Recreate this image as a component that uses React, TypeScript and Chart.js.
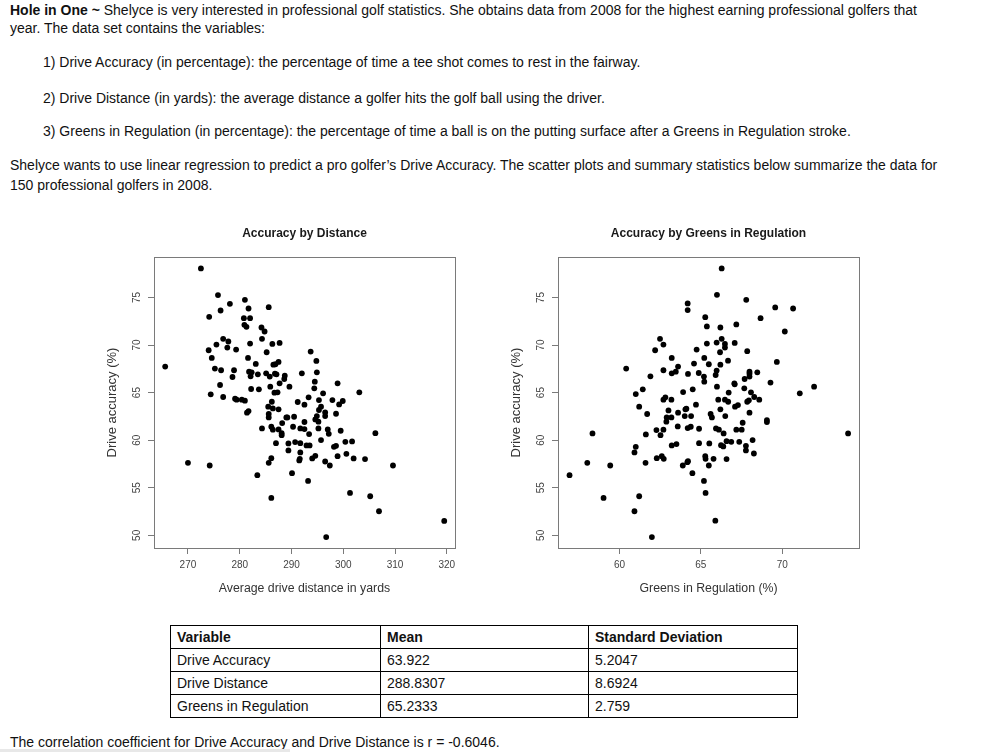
import React, { useEffect, useRef } from "react";
import { Chart, registerables } from "chart.js";

Chart.register(...registerables);

const FONT = "'Liberation Sans', Arial, Helvetica, sans-serif";

// Accuracy by Distance
const distanceYards = [
  272.5, 265.6, 270.0, 274.2, 275.8, 274.1, 276.3, 278.1, 274.0, 275.5,
  274.6, 276.8, 277.8, 277.6, 279.3, 275.2, 276.4, 278.9, 278.6, 276.2,
  274.4, 276.8, 279.1, 279.4, 280.4, 281.0, 281.0, 281.7, 280.8, 282.0,
  280.9, 281.3, 285.6, 284.2, 284.8, 284.3, 282.0, 286.3, 287.7, 285.2,
  281.6, 283.1, 281.8, 282.3, 282.1, 283.5, 285.1, 286.5, 286.9, 287.5,
  286.8, 285.8, 287.1, 288.7, 288.6, 287.7, 285.9, 282.2, 283.7, 286.7,
  287.3, 289.6, 286.2, 285.5, 286.4, 287.5, 285.6, 285.6, 281.7, 281.4,
  284.3, 286.1, 286.4, 287.5, 288.2, 288.1, 288.1, 287.0, 289.0, 289.2,
  290.5, 289.4, 289.4, 286.1, 285.6, 283.4, 286.1, 290.1, 290.3, 290.7,
  291.2, 292.0, 292.5, 291.7, 292.5, 292.5, 291.7, 291.7, 291.5, 291.6,
  292.9, 293.5, 293.4, 293.3, 293.7, 294.8, 294.9, 294.5, 294.4, 295.3,
  296.1, 295.7, 295.3, 294.6, 294.9, 295.2, 295.2, 295.7, 296.5, 296.5,
  294.0, 294.6, 293.2, 296.5, 297.4, 296.7, 297.0, 297.2, 297.9, 298.9,
  299.2, 299.9, 298.6, 299.5, 298.6, 298.2, 298.9, 300.4, 300.6, 301.7,
  302.0, 301.3, 303.1, 304.2, 305.2, 306.2, 306.9, 309.6, 319.5,
];
const distanceAccuracy = [
  78.05, 67.73, 57.62, 57.34, 75.25, 72.96, 73.63, 74.33, 69.45, 70.05,
  68.64, 70.65, 70.37, 69.73, 69.52, 67.52, 67.35, 67.35, 66.64, 65.8,
  64.82, 64.54, 64.36, 64.26, 64.26, 64.15, 74.75, 73.84, 72.82, 72.82,
  72.12, 71.91, 73.98, 71.84, 71.42, 70.65, 70.15, 70.12, 70.22, 69.24,
  68.64, 68.01, 67.2, 67.13, 66.71, 66.92, 67.03, 67.94, 67.98, 68.22,
  66.99, 66.68, 66.92, 66.78, 66.43, 65.98, 65.62, 65.38, 65.34, 64.99,
  65.03, 65.62, 64.04, 63.52, 63.34, 63.24, 62.75, 62.39, 63.06, 62.89,
  61.24, 61.41, 61.1, 61.13, 61.8, 60.74, 60.53, 59.69, 62.39, 62.39,
  62.46, 59.66, 58.92, 58.11, 57.62, 56.32, 53.93, 56.53, 61.41, 59.8,
  64.01, 67.03, 63.73, 61.24, 61.17, 61.91, 59.69, 58.71, 57.87, 58.04,
  59.45, 59.45, 60.64, 64.5, 69.31, 68.33, 67.13, 66.15, 65.45, 64.22,
  64.92, 63.52, 63.17, 62.18, 62.53, 61.94, 61.24, 60.01, 62.92, 62.53,
  58.08, 58.36, 55.72, 57.76, 57.34, 49.82, 61.13, 60.67, 64.22, 65.98,
  63.76, 64.12, 62.78, 60.99, 59.41, 59.3, 58.32, 59.83, 58.57, 59.87,
  58.08, 54.46, 65.03, 58.01, 54.11, 60.74, 52.53, 57.34, 51.51,
];

// Accuracy by Greens in Regulation
const girPercent = [
  66.28, 56.93, 58.02, 58.34, 59.43, 59.02, 60.41, 61.0, 61.43, 61.21,
  61.7, 61.9, 62.19, 62.49, 62.7, 62.7, 63.21, 63.46, 63.21, 63.6,
  62.7, 62.82, 63.19, 63.01, 62.9, 62.88, 63.19, 63.6, 63.91, 64.05,
  64.11, 64.01, 64.4, 63.58, 64.19, 64.38, 62.27, 62.52, 62.7, 61.62,
  61.0, 60.92, 61.6, 62.29, 62.6, 62.72, 63.21, 63.5, 64.21, 64.17,
  63.89, 64.48, 61.21, 60.92, 61.99, 64.19, 64.19, 64.58, 64.74, 64.21,
  64.5, 64.7, 64.87, 65.19, 65.21, 65.27, 65.37, 65.37, 65.49, 65.21,
  64.89, 64.89, 65.19, 65.29, 65.27, 65.29, 65.49, 65.52, 65.6, 65.68,
  65.78, 65.89, 65.99, 65.97, 66.2, 66.28, 66.18, 66.48, 66.48, 65.97,
  65.91, 66.2, 66.67, 65.99, 66.07, 66.48, 66.68, 66.71, 66.2, 66.5,
  65.93, 66.11, 66.4, 66.58, 66.87, 66.24, 66.38, 66.58, 67.08, 67.18,
  67.79, 67.85, 67.06, 67.08, 67.69, 67.67, 67.99, 67.99, 67.99, 68.08,
  68.28, 67.95, 67.85, 68.59, 68.47, 67.1, 67.28, 67.99, 67.57, 67.18,
  67.51, 67.36, 67.77, 67.77, 68.18, 68.26, 68.67, 69.57, 69.67, 69.28,
  69.06, 69.06, 70.16, 70.67, 71.08, 71.96, 74.05,
];
const girAccuracy = [
  78.05, 56.32, 57.62, 60.71, 57.34, 53.93, 67.52, 64.85, 65.34, 63.52,
  62.75, 66.71, 69.45, 70.65, 70.05, 67.35, 68.64, 67.2, 67.03, 67.73,
  64.26, 64.5, 64.26, 63.13, 62.39, 61.94, 62.39, 62.89, 65.06, 63.24,
  63.31, 62.53, 62.53, 61.45, 61.27, 61.41, 61.06, 60.53, 61.1, 60.6,
  59.3, 58.71, 57.62, 58.11, 58.32, 58.04, 59.45, 59.59, 57.79, 57.69,
  57.34, 56.53, 54.11, 52.53, 49.82, 73.67, 74.37, 68.05, 69.52, 66.96,
  65.34, 63.73, 67.06, 66.68, 68.64, 72.93, 71.95, 70.15, 67.98, 66.15,
  61.2, 59.69, 55.72, 54.46, 58.32, 58.04, 57.34, 59.66, 62.75, 62.39,
  58.04, 51.54, 75.28, 70.26, 71.84, 70.65, 69.24, 70.12, 69.73, 67.31,
  66.85, 67.94, 68.36, 65.62, 64.26, 64.26, 64.04, 65.0, 63.24, 62.53,
  61.24, 61.1, 60.71, 59.9, 59.83, 59.48, 59.34, 58.01, 70.22, 72.16,
  74.75, 69.35, 65.98, 65.87, 66.43, 65.45, 67.2, 66.99, 66.68, 65.03,
  64.54, 64.19, 64.04, 64.26, 67.13, 63.52, 63.69, 62.89, 61.83, 61.1,
  61.1, 59.83, 59.41, 58.92, 60.01, 58.6, 72.82, 73.95, 68.22, 66.05,
  62.11, 61.9, 71.42, 73.84, 64.92, 65.62, 60.71,
];

const distanceTicks = [270, 280, 290, 300, 310, 320];
const girTicks = [60, 65, 70];
const accuracyTicks = [50, 55, 60, 65, 70, 75];

const tableHeader = ["Variable", "Mean", "Standard Deviation"];
const tableVariables = ["Drive Accuracy", "Drive Distance", "Greens in Regulation"];
const tableMeans = ["63.922", "288.8307", "65.2333"];
const tableSDs = ["5.2047", "8.6924", "2.759"];

const boxPlugin = {
  id: "rbox",
  afterDraw(chart: any) {
    const { ctx, chartArea: a } = chart;
    ctx.save();
    ctx.strokeStyle = "#7a7a7a";
    ctx.lineWidth = 1;
    const l = Math.round(a.left) + 0.5;
    const t = Math.round(a.top) + 0.5;
    const r = Math.round(a.right) + 0.5;
    const b = Math.round(a.bottom) + 0.5;
    ctx.strokeRect(l, t, r - l, b - t);
    ctx.restore();
  },
};

type ScatterProps = {
  xs: number[];
  ys: number[];
  xTicks: number[];
  xMin: number;
  xMax: number;
  title: string;
  xTitle: string;
  left: number;
};

function RScatter({ xs, ys, xTicks, xMin, xMax, title, xTitle, left }: ScatterProps) {
  const ref = useRef<HTMLCanvasElement | null>(null);
  useEffect(() => {
    if (!ref.current) return;
    const chart = new Chart(ref.current, {
      type: "scatter",
      data: {
        datasets: [
          {
            data: xs.map((x, i) => ({ x, y: ys[i] })),
            backgroundColor: "#000",
            borderColor: "#000",
            borderWidth: 0,
            pointRadius: 2.9,
            pointHoverRadius: 2.9,
          },
        ],
      },
      options: {
        responsive: false,
        animation: false,
        events: [],
        layout: { padding: { top: 0, left: 0, right: 25, bottom: 0 } },
        plugins: {
          legend: { display: false },
          tooltip: { enabled: false },
          title: {
            display: true,
            text: title,
            fullSize: false,
            color: "#1a1a1a",
            font: { family: FONT, size: 12, weight: "bold" },
            padding: { top: 4.5, bottom: 16.1 },
          },
        },
        scales: {
          x: {
            type: "linear",
            min: xMin,
            max: xMax,
            afterBuildTicks: (s: any) => {
              s.ticks = xTicks.map((v) => ({ value: v }));
            },
            afterFit: (s: any) => {
              s.height = 59;
            },
            grid: { drawOnChartArea: false, drawTicks: true, tickLength: 6, color: "#7a7a7a" },
            border: { display: false },
            ticks: {
              autoSkip: false,
              maxRotation: 0,
              minRotation: 0,
              padding: 5.7,
              color: "#444",
              font: { family: FONT, size: 10 },
            },
            title: {
              display: true,
              text: xTitle,
              color: "#333",
              font: { family: FONT, size: 12.3 },
              padding: { top: 0, bottom: 10.6 },
            },
          },
          y: {
            type: "linear",
            min: 48.67,
            max: 79.25,
            afterBuildTicks: (s: any) => {
              s.ticks = accuracyTicks.map((v) => ({ value: v }));
            },
            afterFit: (s: any) => {
              s.width = 54;
            },
            grid: { drawOnChartArea: false, drawTicks: true, tickLength: 6, color: "#7a7a7a" },
            border: { display: false },
            ticks: {
              autoSkip: false,
              minRotation: 90,
              maxRotation: 90,
              crossAlign: "center",
              padding: 5,
              color: "#444",
              font: { family: FONT, size: 10 },
            },
            title: {
              display: true,
              text: "Drive accuracy (%)",
              color: "#333",
              font: { family: FONT, size: 13 },
              padding: { top: 4.2, bottom: 0 },
            },
          },
        },
      } as any,
      plugins: [boxPlugin],
    });
    return () => chart.destroy();
  }, []);
  return (
    <div style={{ position: "absolute", left, top: 222, width: 380, height: 385 }}>
      <canvas ref={ref} width={380} height={385} style={{ display: "block" }} />
    </div>
  );
}

const textStyle: React.CSSProperties = {
  position: "absolute",
  fontFamily: FONT,
  fontSize: 14,
  lineHeight: "16px",
  color: "#111",
  whiteSpace: "nowrap",
};

function Line({ left, center, children }: { left: number; center: number; children: React.ReactNode }) {
  return <div style={{ ...textStyle, left, top: center - 8 }}>{children}</div>;
}

export default function App() {
  const cell: React.CSSProperties = {
    border: "1px solid #000",
    padding: "0 0 0 6px",
    height: 22,
    fontFamily: FONT,
    fontSize: 14,
    lineHeight: "16px",
    textAlign: "left",
    verticalAlign: "middle",
    color: "#111",
  };
  return (
    <div style={{ position: "absolute", left: 0, top: 0, width: 1003, height: 752, background: "#fff", overflow: "hidden" }}>
      <Line left={10} center={10}>
        <b>Hole in One ~</b> Shelyce is very interested in professional golf statistics. She obtains data from 2008 for the highest earning professional golfers that
      </Line>
      <Line left={10} center={28}>year. The data set contains the variables:</Line>
      <Line left={43} center={62}>1) Drive Accuracy (in percentage): the percentage of time a tee shot comes to rest in the fairway.</Line>
      <Line left={43} center={98}>2) Drive Distance (in yards): the average distance a golfer hits the golf ball using the driver.</Line>
      <Line left={43} center={131}>3) Greens in Regulation (in percentage): the percentage of time a ball is on the putting surface after a Greens in Regulation stroke.</Line>
      <Line left={10} center={165}>
        Shelyce wants to use linear regression to predict a pro golfer’s Drive Accuracy. The scatter plots and summary statistics below summarize the data for
      </Line>
      <Line left={10} center={185}>150 professional golfers in 2008.</Line>

      <RScatter
        xs={distanceYards}
        ys={distanceAccuracy}
        xTicks={distanceTicks}
        xMin={263.44}
        xMax={321.58}
        title="Accuracy by Distance"
        xTitle="Average drive distance in yards"
        left={100}
      />
      <RScatter
        xs={girPercent}
        ys={girAccuracy}
        xTicks={girTicks}
        xMin={56.22}
        xMax={74.72}
        title="Accuracy by Greens in Regulation"
        xTitle="Greens in Regulation (%)"
        left={504}
      />

      <table
        style={{
          position: "absolute",
          left: 170,
          top: 625,
          borderCollapse: "collapse",
          tableLayout: "fixed",
          width: 627,
        }}
      >
        <colgroup>
          <col style={{ width: 210 }} />
          <col style={{ width: 208 }} />
          <col style={{ width: 209 }} />
        </colgroup>
        <tbody>
          <tr>
            {tableHeader.map((h) => (
              <td key={h} style={{ ...cell, fontWeight: "bold" }}>{h}</td>
            ))}
          </tr>
          {tableVariables.map((v, i) => (
            <tr key={v}>
              <td style={cell}>{v}</td>
              <td style={cell}>{tableMeans[i]}</td>
              <td style={cell}>{tableSDs[i]}</td>
            </tr>
          ))}
        </tbody>
      </table>

      <Line left={10} center={742}>
        The correlation coefficient for Drive Accuracy and Drive Distance is r = -0.6046.
      </Line>
      <div style={{ position: "absolute", left: 0, top: 749, width: 290, height: 3, background: "#e8e8e8" }} />
    </div>
  );
}
